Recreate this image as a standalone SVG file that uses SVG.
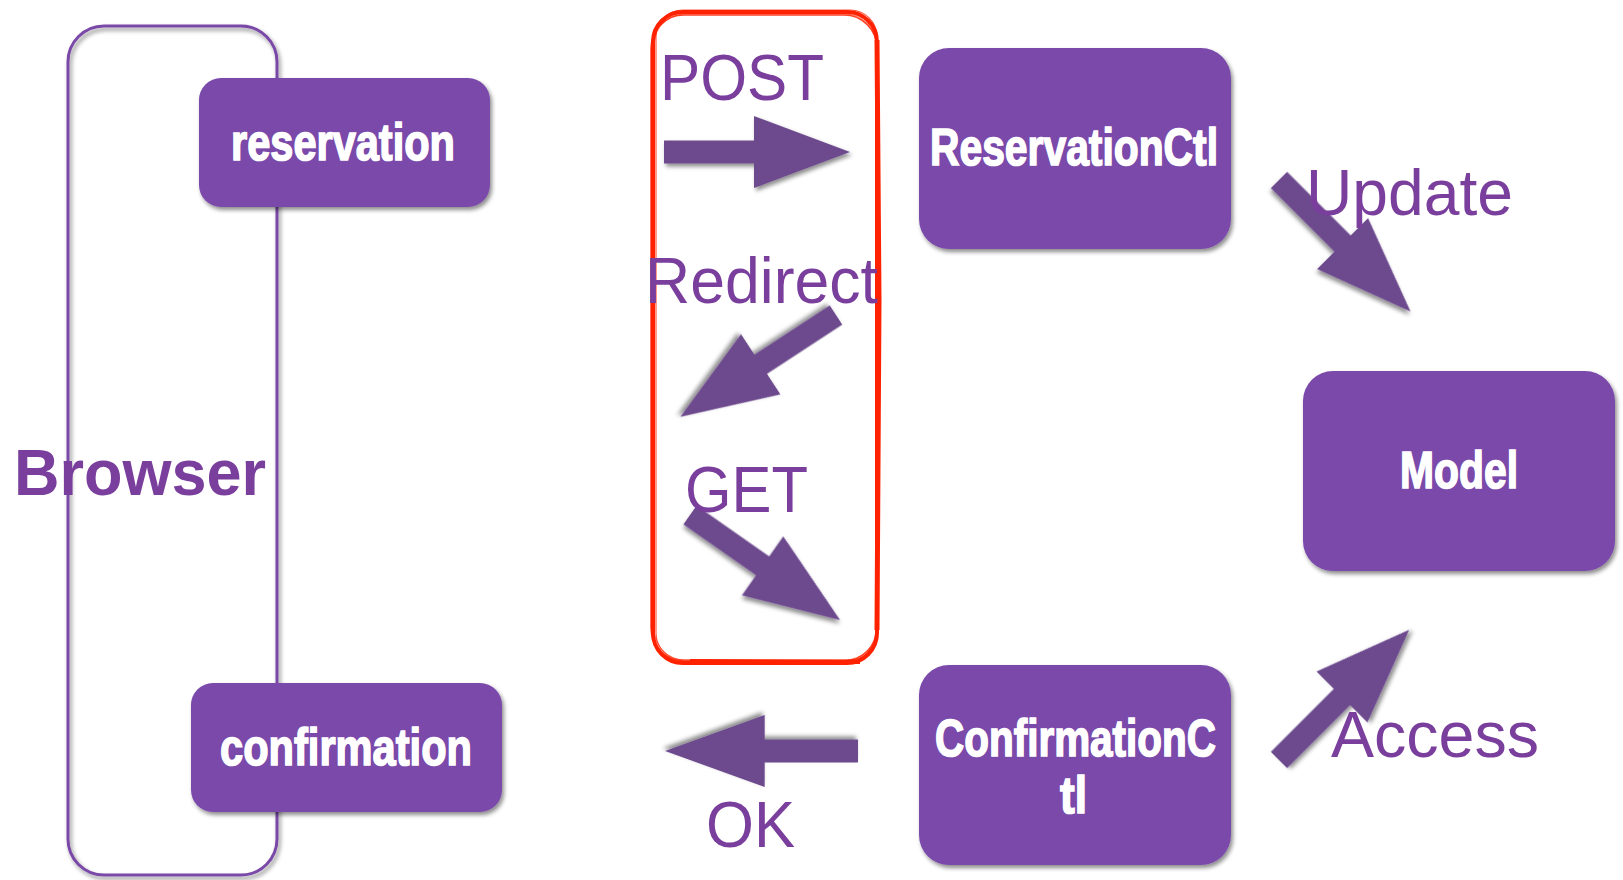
<svg xmlns="http://www.w3.org/2000/svg" width="1623" height="880" viewBox="0 0 1623 880">
<style>
.box{fill:#7a4aaa;filter:url(#sh)}
.nt{fill:#fff;stroke:#fff;stroke-width:1.6px;font-family:"Liberation Sans Narrow","Liberation Sans",Arial,sans-serif;font-weight:bold;font-size:52px}
.lbl{fill:#7a3e9d;font-family:"Liberation Sans",Arial,sans-serif;font-size:64px}
.arr{fill:#6d4a8e;filter:url(#sh)}
.red{fill:none;stroke:#ff2200;stroke-linejoin:round}
</style>
<defs>
<filter id="sh" x="-20%" y="-20%" width="140%" height="140%">
<feDropShadow dx="2" dy="3" stdDeviation="2" flood-color="#000" flood-opacity="0.45"/>
</filter>
<polygon id="ar" points="0,-11.5 90,-11.5 90,-36 186,0 90,36 90,11.5 0,11.5"/>
</defs>
<rect width="1623" height="880" fill="#fff"/>

<g id="browser">
<rect x="68" y="26" width="209" height="849" rx="36" fill="none" stroke="#7a4aa8" stroke-width="3" filter="url(#sh)"/>
<text x="14" y="495" class="lbl" font-weight="bold" textLength="252" lengthAdjust="spacingAndGlyphs">Browser</text>
</g>

<g id="reservation">
<rect class="box" x="199" y="78" width="291" height="129" rx="22"/>
<text class="nt" x="231" y="160" textLength="224" lengthAdjust="spacingAndGlyphs">reservation</text>
</g>

<g id="confirmation">
<rect class="box" x="191" y="683" width="311" height="129" rx="22"/>
<text class="nt" x="220" y="765" textLength="252" lengthAdjust="spacingAndGlyphs">confirmation</text>
</g>

<g id="reservationctl">
<rect class="box" x="919" y="48" width="312" height="201" rx="30"/>
<text class="nt" x="930" y="165" textLength="288" lengthAdjust="spacingAndGlyphs">ReservationCtl</text>
</g>

<g id="model">
<rect class="box" x="1303" y="371" width="312" height="200" rx="30"/>
<text class="nt" x="1400" y="488" textLength="118" lengthAdjust="spacingAndGlyphs">Model</text>
</g>

<g id="confirmationctl">
<rect class="box" x="919" y="665" width="312" height="200" rx="30"/>
<text class="nt" x="935" y="756" textLength="281" lengthAdjust="spacingAndGlyphs">ConfirmationC</text>
<text class="nt" x="1060" y="813" textLength="27" lengthAdjust="spacingAndGlyphs">tl</text>
</g>

<g id="highlight">
<rect class="red" x="653" y="12" width="224" height="651" rx="30" stroke-width="4"/>
<rect class="red" x="651" y="15" width="226" height="646" rx="33" stroke-width="1.5" opacity="0.85"/>
<rect class="red" x="656" y="10" width="221" height="650" rx="27" stroke-width="1.2" opacity="0.75"/>
<rect class="red" x="654" y="14" width="222" height="646" rx="31" stroke-width="1" opacity="0.6"/>
<path class="red" d="M877,40 L879,300 L877,630" stroke-width="5"/>
<path class="red" d="M690,661 L860,662" stroke-width="4"/>
</g>

<g id="connectors">
<use href="#ar" class="arr" transform="translate(664,152)"/>
<use href="#ar" class="arr" transform="translate(836,315) rotate(146.8)"/>
<use href="#ar" class="arr" transform="translate(690,515) rotate(35) scale(0.985,1)"/>
<use href="#ar" class="arr" transform="translate(858,751) rotate(180) scale(1.037,1)"/>
<use href="#ar" class="arr" transform="translate(1279,180) rotate(45)"/>
<use href="#ar" class="arr" transform="translate(1279,760) rotate(-45) scale(0.99,1)"/>
<text class="lbl" x="660" y="100" textLength="164" lengthAdjust="spacingAndGlyphs">POST</text>
<text class="lbl" x="645" y="303" textLength="233" lengthAdjust="spacingAndGlyphs">Redirect</text>
<text class="lbl" x="685" y="512" textLength="123" lengthAdjust="spacingAndGlyphs">GET</text>
<text class="lbl" x="706" y="847" textLength="89" lengthAdjust="spacingAndGlyphs">OK</text>
<text class="lbl" x="1306" y="215" textLength="207" lengthAdjust="spacingAndGlyphs">Update</text>
<text class="lbl" x="1331" y="757" textLength="208" lengthAdjust="spacingAndGlyphs">Access</text>
</g>
</svg>
